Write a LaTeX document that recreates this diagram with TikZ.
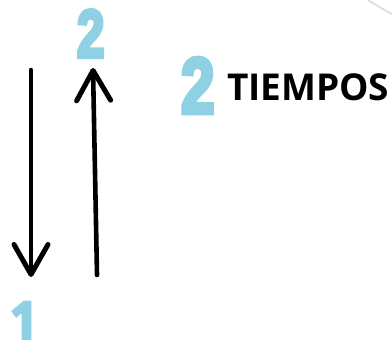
\documentclass[tikz,border=0pt]{standalone}
\usepackage{fontspec}
\setmainfont{Open Sans}
\newfontfamily\digitfont[FakeBold=6]{Liberation Sans}
\newfontfamily\onefont[FakeBold=5]{Open Sans}
\usetikzlibrary{arrows.meta}
\definecolor{digitblue}{RGB}{143,208,228}
\definecolor{arcpink}{RGB}{226,214,224}
\newcommand{\bigdigit}[3]{\resizebox{#1bp}{#2bp}{\digitfont\bfseries #3}}
\newcommand{\bigone}[2]{\resizebox{#1bp}{#2bp}{\onefont\bfseries 1}}
\tikzset{
  digit/.style={inner sep=0pt,outer sep=0pt,anchor=north west,text=digitblue},
  stroke/.style={line width=4.6bp,line cap=round,line join=round,black,
    -{Straight Barb[length=30bp,width=34bp,line width=5bp,round]}},
  title/.style={inner sep=0pt,outer sep=0pt,anchor=base west,font=\bfseries\fontsize{37bp}{40bp}\selectfont,text=black}
}
\begin{document}
\begin{tikzpicture}[x=1bp,y=-1bp]
\useasboundingbox (0,0) rectangle (392,340);
\draw[arcpink,line width=1.6bp] (368,0) .. controls (376,5) and (384,10) .. (392,14);
\node[digit] (two) at (77,10) {\bigdigit{27.5}{47}{2}};
\node[digit] (bigtwo) at (181,58) {\bigdigit{33.5}{55}{2}};
\node[digit] (one) at (10,302) {\bigone{28}{36.5}};
\node[title] (tiempos) at (227,100) {TIEMPOS};
\coordinate (dstart) at (31,70);
\coordinate (dend) at (31,277);
\coordinate (ustart) at (97,275);
\coordinate (uend) at (93,68);
\draw[stroke] (dstart) -- (dend);
\draw[stroke] (ustart) -- (uend);
\end{tikzpicture}
\end{document}
